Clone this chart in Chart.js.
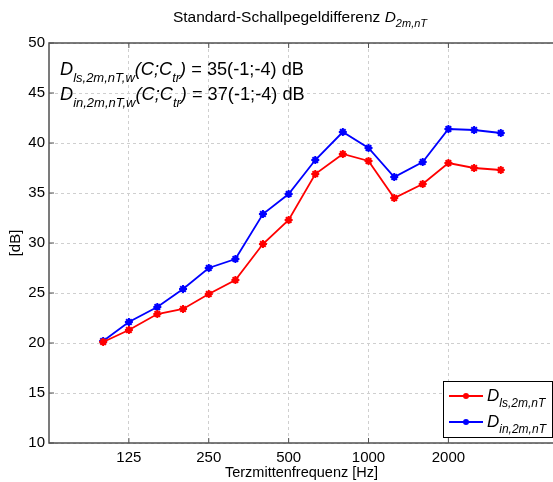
<!DOCTYPE html>
<html>
<head>
<meta charset="utf-8">
<script src="https://cdn.jsdelivr.net/npm/chart.js@4"></script>
<style>
  html, body { margin: 0; padding: 0; overflow: hidden; background: #fff; }
  #wrap { width: 560px; height: 482px; }
</style>
</head>
<body>
<div id="wrap"><canvas id="chart"></canvas></div>
<script>
// third-octave centre frequencies [Hz]
const freqs = [100, 125, 160, 200, 250, 315, 400, 500, 630, 800, 1000, 1250, 1600, 2000, 2500, 3150];
// D_ls,2m,nT [dB]
const dLs = [20.1, 21.3, 22.9, 23.4, 24.9, 26.3, 29.9, 32.3, 36.9, 38.9, 38.2, 34.5, 35.9, 38.0, 37.5, 37.3];
// D_in,2m,nT [dB]
const dIn = [20.2, 22.1, 23.6, 25.4, 27.5, 28.4, 32.9, 34.9, 38.3, 41.1, 39.5, 36.6, 38.1, 41.4, 41.3, 41.0];
const xTicks = [125, 250, 500, 1000, 2000];
const yTicks = [10, 15, 20, 25, 30, 35, 40, 45, 50];

const FONT = "'Liberation Sans', Arial, sans-serif";
const frameColor = '#505050';

// draws text with subscripts, parts = [text, italic, sub]
function drawParts(ctx, x, y, parts, size, subSize, subDrop) {
  ctx.textBaseline = 'alphabetic';
  ctx.textAlign = 'left';
  parts.forEach(([txt, italic, sub]) => {
    const fs = sub ? subSize : size;
    ctx.font = (italic ? 'italic ' : '') + fs + 'px ' + FONT;
    ctx.fillText(txt, x, sub ? y + subDrop : y);
    x += ctx.measureText(txt).width;
  });
  return x;
}
function partsWidth(ctx, parts, size, subSize) {
  let w = 0;
  parts.forEach(([txt, italic, sub]) => {
    ctx.font = (italic ? 'italic ' : '') + (sub ? subSize : size) + 'px ' + FONT;
    w += ctx.measureText(txt).width;
  });
  return w;
}

const decorPlugin = {
  id: 'decor',
  afterDraw(chart) {
    const ctx = chart.ctx;
    const a = chart.chartArea;
    const xs = chart.scales.x, ys = chart.scales.y;
    ctx.save();
    // frame
    ctx.strokeStyle = frameColor;
    ctx.lineWidth = 1.5;
    ctx.strokeRect(a.left, a.top, a.right - a.left, a.bottom - a.top);
    // inner tick marks
    ctx.lineWidth = 1;
    ctx.beginPath();
    xTicks.forEach(v => {
      const px = xs.getPixelForValue(v);
      ctx.moveTo(px, a.bottom); ctx.lineTo(px, a.bottom - 5);
      ctx.moveTo(px, a.top); ctx.lineTo(px, a.top + 5);
    });
    yTicks.forEach(v => {
      const py = ys.getPixelForValue(v);
      ctx.moveTo(a.left, py); ctx.lineTo(a.left + 5, py);
    });
    ctx.stroke();

    ctx.fillStyle = '#000';
    // title
    const tParts = [['Standard-Schallpegeldifferenz ', false, false], ['D', true, false], ['2m,nT', true, true]];
    const tw = partsWidth(ctx, tParts, 15.5, 11);
    drawParts(ctx, 300 - tw / 2, 22, tParts, 15.5, 11, 5);

    // weighted values
    drawParts(ctx, a.left + 11, a.top + 32, [
      ['D', true, false], ['ls,2m,nT,w', true, true], ['(C;C', true, false], ['tr', true, true],
      [')', true, false], [' = 35(-1;-4) dB', false, false]
    ], 18.2, 13, 6.5);
    drawParts(ctx, a.left + 11, a.top + 57, [
      ['D', true, false], ['in,2m,nT,w', true, true], ['(C;C', true, false], ['tr', true, true],
      [')', true, false], [' = 37(-1;-4) dB', false, false]
    ], 18.2, 13, 6.5);

    // legend
    const lx = 443, ly = 381, lw = 109, lh = 56;
    ctx.fillStyle = '#fff';
    ctx.fillRect(lx, ly, lw, lh);
    ctx.strokeStyle = '#000';
    ctx.lineWidth = 1;
    ctx.strokeRect(lx + 0.5, ly + 0.5, lw, lh);
    const items = [['ls,2m,nT', '#ff0000'], ['in,2m,nT', '#0000ff']];
    items.forEach(([sub, col], i) => {
      const yy = ly + 15 + i * 26;
      ctx.strokeStyle = col;
      ctx.fillStyle = col;
      ctx.lineWidth = 2;
      ctx.beginPath();
      ctx.moveTo(lx + 6, yy); ctx.lineTo(lx + 40, yy);
      ctx.stroke();
      ctx.beginPath();
      ctx.arc(lx + 23, yy, 3, 0, Math.PI * 2);
      ctx.fill();
      ctx.fillStyle = '#000';
      drawParts(ctx, lx + 44, yy + 5, [['D', true, false], [sub, true, true]], 17, 12, 6);
    });
    ctx.restore();
  }
};

const makeData = vals => freqs.map((f, i) => ({ x: f, y: vals[i] }));

new Chart(document.getElementById('chart'), {
  type: 'line',
  data: {
    datasets: [
      {
        label: 'D_ls,2m,nT',
        data: makeData(dLs),
        borderColor: '#ff0000',
        backgroundColor: '#ff0000',
        borderWidth: 1.8,
        pointStyle: 'star',
        pointRadius: 4,
        pointBorderWidth: 2,
        tension: 0
      },
      {
        label: 'D_in,2m,nT',
        data: makeData(dIn),
        borderColor: '#0000ff',
        backgroundColor: '#0000ff',
        borderWidth: 1.8,
        pointStyle: 'star',
        pointRadius: 4,
        pointBorderWidth: 2,
        tension: 0
      }
    ]
  },
  options: {
    responsive: true,
    maintainAspectRatio: false,
    animation: false,
    layout: { padding: { top: 43, right: 5, left: 0, bottom: 0 } },
    plugins: {
      legend: { display: false },
      title: { display: false },
      tooltip: { enabled: false }
    },
    scales: {
      x: {
        type: 'logarithmic',
        min: 62.5,
        max: 5000,
        afterBuildTicks: scale => { scale.ticks = xTicks.map(v => ({ value: v })); },
        afterFit: scale => { scale.height = 39; },
        ticks: {
          callback: v => String(v),
          color: '#000',
          font: { family: FONT, size: 15 },
          padding: 6,
          maxRotation: 0,
          autoSkip: false
        },
        grid: { color: '#cfcfcf', lineWidth: 1, drawTicks: false },
        border: { display: false, dash: [3, 3] },
        title: {
          display: true,
          text: 'Terzmittenfrequenz [Hz]',
          color: '#000',
          font: { family: FONT, size: 14.5 },
          padding: { top: 0, bottom: 0 }
        }
      },
      y: {
        min: 10,
        max: 50,
        afterBuildTicks: scale => { scale.ticks = yTicks.map(v => ({ value: v })); },
        afterFit: scale => { scale.width = 49; },
        ticks: {
          color: '#000',
          font: { family: FONT, size: 15 },
          padding: 4
        },
        grid: { color: '#cfcfcf', lineWidth: 1, drawTicks: false },
        border: { display: false, dash: [3, 3] },
        title: {
          display: true,
          text: '[dB]',
          color: '#000',
          font: { family: FONT, size: 15 },
          padding: { top: 7, bottom: 0 }
        }
      }
    }
  },
  plugins: [decorPlugin]
});
</script>
</body>
</html>
